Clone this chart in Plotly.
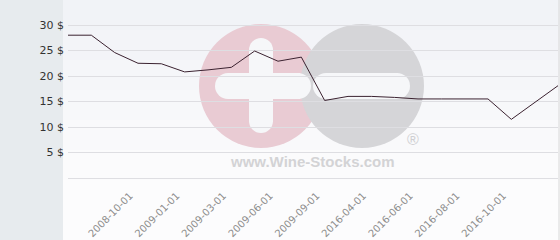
import plotly.graph_objects as go

# ---- data ----
dates = [
    "2008-07-01", "2008-08-01", "2008-09-01", "2008-10-01", "2008-12-01",
    "2009-01-01", "2009-02-01", "2009-03-01", "2009-05-01", "2009-06-01",
    "2009-08-01", "2009-09-01", "2016-03-01", "2016-04-01", "2016-05-01",
    "2016-06-01", "2016-07-01", "2016-08-01", "2016-09-01", "2016-10-01",
    "2016-11-01", "2016-12-01",
]
prices = [
    28.0, 28.0, 24.6, 22.5, 22.4,
    20.8, 21.2, 21.7, 24.9, 22.9,
    23.7, 15.2, 16.0, 16.0, 15.8,
    15.5, 15.5, 15.5, 15.5, 11.5,
    14.8, 18.1,
]
tick_dates = ["2008-10-01", "2009-01-01", "2009-03-01", "2009-06-01", "2009-09-01",
              "2016-04-01", "2016-06-01", "2016-08-01", "2016-10-01"]
y_ticks = [0, 5, 10, 15, 20, 25, 30]
y_ticklabels = ["" if v == 0 else f"{v} $" for v in y_ticks]

# ---- layout geometry (pixels) ----
W, H = 560, 240
L, R, T, B = 68, 2, 5, 57
PW, PH = W - L - R, H - T - B
PX_PER_UNIT = (178 - 25) / 30


def px(x):
    return (x - L) / PW


def py(y):
    return (H - B - y) / PH


fig = go.Figure()
fig.add_trace(go.Scatter(
    x=dates, y=prices, mode="lines",
    line=dict(color="#3b2230", width=1),
    hoverinfo="skip",
))

shapes = []
# left grey panel
shapes.append(dict(type="rect", xref="paper", yref="paper", layer="below",
                   x0=px(0), x1=px(63), y0=py(H), y1=py(0),
                   fillcolor="#e7ebee", line_width=0))
# soft gradient background
bands = ["#f1f3f7", "#f3f4f8", "#f5f6f9", "#f7f8fa", "#f9f9fb", "#fbfbfc"]
bh = 180 / len(bands)
for i, c in enumerate(bands):
    shapes.append(dict(type="rect", xref="paper", yref="paper", layer="below",
                       x0=px(63), x1=px(W), y0=py(i * bh + bh + 0.5), y1=py(i * bh),
                       fillcolor=c, line_width=0))
shapes.append(dict(type="rect", xref="paper", yref="paper", layer="below",
                   x0=px(63), x1=px(W), y0=py(H), y1=py(180),
                   fillcolor="#fcfcfd", line_width=0))


def circle(cx, cy, r, color):
    return dict(type="circle", xref="paper", yref="paper", layer="below",
                x0=px(cx - r), x1=px(cx + r), y0=py(cy + r), y1=py(cy - r),
                fillcolor=color, line_width=0)


def rect(x0, y0, x1, y1, color):
    return dict(type="rect", xref="paper", yref="paper", layer="below",
                x0=px(x0), x1=px(x1), y0=py(y1), y1=py(y0),
                fillcolor=color, line_width=0)


bg = "#f6f7f9"
# watermark: white strip behind text
shapes.append(rect(196, 150, 432, 173, "#fbfbfc"))
# pink circle with plus
shapes.append(circle(261, 86, 62, "#e9cbd3"))
# grey circle with minus
shapes.append(circle(362, 86, 62, "#d5d5d8"))
# plus horizontal bar
shapes.append(rect(228, 73, 300, 99, bg))
shapes.append(circle(228, 86, 13, bg))
shapes.append(circle(298, 86, 13, bg))
# plus vertical bar
shapes.append(rect(249, 49, 273, 122, bg))
shapes.append(circle(261, 50, 12, bg))
shapes.append(circle(261, 121, 12, bg))
# minus bar
shapes.append(rect(326, 73, 398, 99, bg))
shapes.append(circle(326, 86, 13, bg))
shapes.append(circle(397, 86, 13, bg))
# right border
shapes.append(dict(type="line", xref="paper", yref="paper",
                   x0=px(559), x1=px(559), y0=py(H), y1=py(0),
                   line=dict(color="#d8d8d8", width=1)))

annotations = [
    dict(xref="paper", yref="paper", x=px(312), y=py(161), text="<b>www.Wine-Stocks.com</b>",
         showarrow=False, font=dict(family="Liberation Sans", size=15, color="#d3d3d5"),
         xanchor="center", yanchor="middle"),
    dict(xref="paper", yref="paper", x=px(413), y=py(139), text="®",
         showarrow=False, font=dict(family="Liberation Sans", size=16, color="#cfcfd2"),
         xanchor="center", yanchor="middle"),
]

y_bottom = -((H - B) - 178) / PX_PER_UNIT
y_top = y_bottom + PH / PX_PER_UNIT

fig.update_layout(
    width=W, height=H,
    margin=dict(l=L, r=R, t=T, b=B, autoexpand=False),
    paper_bgcolor="#fbfbfc",
    plot_bgcolor="rgba(0,0,0,0)",
    showlegend=False,
    shapes=shapes,
    annotations=annotations,
    font=dict(family="DejaVu Sans"),
    xaxis=dict(
        type="category",
        automargin=False,
        range=[0, (PW - 3) / ((555 - 68) / 21)],
        tickmode="array", tickvals=tick_dates, ticktext=tick_dates,
        tickangle=-45,
        tickfont=dict(size=10, color="#8c8c8c"),
        showgrid=False, zeroline=False, showline=False,
        ticks="", ticklabelshift=-8, ticklabelstandoff=4,
    ),
    yaxis=dict(
        automargin=False,
        range=[y_bottom, y_top],
        tickmode="array", tickvals=y_ticks, ticktext=y_ticklabels,
        tickfont=dict(size=11, color="#333333"),
        showgrid=True, gridcolor="#dedee2", gridwidth=1,
        zeroline=False, showline=False,
        ticklabelstandoff=3,
    ),
)

fig.write_html("out.html")
